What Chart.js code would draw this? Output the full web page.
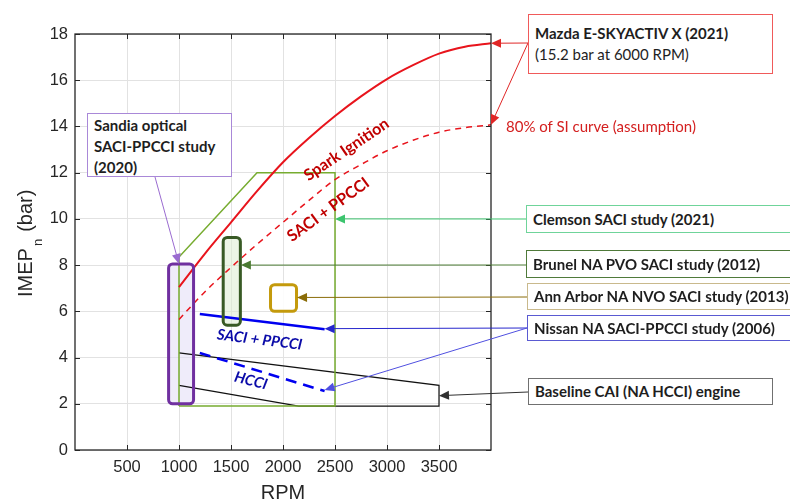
<!DOCTYPE html>
<html>
<head>
<meta charset="utf-8">
<script src="https://cdn.jsdelivr.net/npm/chart.js@4.4.1/dist/chart.umd.min.js"></script>
<style>
    body { margin: 0; background: #fff; }
    #wrap { position: relative; width: 790px; height: 500px; overflow: hidden; background: #fff; }
    #wrap canvas { position: absolute; left: 0; top: 0; }
    .note {
        position: absolute;
        box-sizing: border-box;
        background: #fff;
        border: 1px solid #888;
        font: bold 15px Lato, "Open Sans", sans-serif;
        color: #1e1e1e;
        white-space: nowrap;
        padding-left: 6px;
    }
    .note .plain { font-weight: normal; }
    .red-note {
        position: absolute;
        font: 15px Lato, "Open Sans", sans-serif;
        color: #d42020;
        white-space: nowrap;
    }
</style>
</head>
<body>
<div id="wrap">
    <canvas id="imepChart" width="790" height="500"></canvas>

    <div class="note" style="left:528px; top:14px; width:245px; height:60px; border-color:#f05a5a; line-height:21px; padding-top:8px;">
        Mazda E-SKYACTIV X (2021)<br><span class="plain">(15.2 bar at 6000 RPM)</span>
    </div>
    <div class="red-note" style="left:506px; top:117px;">80% of SI curve (assumption)</div>
    <div class="note" style="left:526px; top:205px; width:300px; height:28px; border-color:#6fd49a; line-height:26px;">Clemson SACI study (2021)</div>
    <div class="note" style="left:526px; top:250px; width:300px; height:28px; border-color:#4f7a3a; line-height:26px;">Brunel NA PVO SACI study (2012)</div>
    <div class="note" style="left:527px; top:283px; width:300px; height:27px; border-color:#c9b98c; line-height:25px;">Ann Arbor NA NVO SACI study (2013)</div>
    <div class="note" style="left:527px; top:315px; width:300px; height:26px; border-color:#5a5ad2; line-height:24px;">Nissan NA SACI-PPCCI study (2006)</div>
    <div class="note" style="left:528px; top:378px; width:245px; height:27px; border-color:#707070; line-height:25px;">Baseline CAI (NA HCCI) engine</div>
    <div class="note" style="left:87px; top:113px; width:145px; height:64px; border-color:#a988d8; line-height:21px; padding-top:1px;">
        Sandia optical<br>SACI-PPCCI study<br>(2020)
    </div>
</div>

<script>
// Spark ignition full-load curve and the assumed 80% SACI + PPCCI limit
const rpmSI = [1000, 1250, 1500, 1750, 2000, 2250, 2500, 2750, 3000, 3250, 3500, 3750, 4000];
const imepSI = [7.05, 8.5, 9.85, 11.2, 12.45, 13.5, 14.45, 15.3, 16.05, 16.65, 17.15, 17.45, 17.6];
const imepSI80 = [5.65, 6.85, 7.9, 8.9, 9.85, 10.8, 11.7, 12.35, 12.95, 13.4, 13.75, 13.95, 14.07];

// Clemson SACI operating envelope
const clemsonRpm = [1000, 1000, 1750, 2500, 2500, 1000];
const clemsonImep = [1.9, 8.35, 12, 12, 1.9, 1.9];

// Baseline CAI (NA HCCI) engine envelope
const baselineRpm = [1000, 3500, 3500, 2150, 1000];
const baselineImep = [4.2, 2.8, 1.9, 1.9, 2.8];

// Nissan upper limits
const nissanRpm = [1200, 2400];
const nissanSaciImep = [5.88, 5.22];
const nissanHcciImep = [4.2, 2.55];

// Study regions drawn as boxes [min, max]
const sandiaRpm = [900, 1140];
const sandiaImep = [2, 8.05];
const brunelRpm = [1425, 1590];
const brunelImep = [5.4, 9.2];
const annArborRpm = [1880, 2130];
const annArborImep = [6.0, 7.15];

const xTicks = [500, 1000, 1500, 2000, 2500, 3000, 3500];
const yTicks = [0, 2, 4, 6, 8, 10, 12, 14, 16, 18];

function pts(xs, ys) {
    return xs.map((x, i) => ({ x: x, y: ys[i] }));
}

const regions = [
    { rpm: sandiaRpm, imep: sandiaImep, stroke: '#7030a0', fill: 'rgba(225, 220, 245, 0.55)' },
    { rpm: brunelRpm, imep: brunelImep, stroke: '#385a25', fill: 'rgba(220, 236, 210, 0.55)' },
    { rpm: annArborRpm, imep: annArborImep, stroke: '#c49a0c', fill: 'rgba(255, 255, 255, 0.9)' }
];

// rotated labels inside the plot, anchored in data units
const plotLabels = [
    { text: 'Spark Ignition', rpm: 2610, imep: 13.0, angle: -34, color: '#c00000', font: 'bold 16px Lato' },
    { text: 'SACI + PPCCI', rpm: 2435, imep: 10.4, angle: -36, color: '#c00000', font: 'bold 16px Lato' },
    { text: 'SACI + PPCCI', rpm: 1775, imep: 4.77, angle: 7, color: '#0a0aa8', font: 'italic bold 15px Lato' },
    { text: 'HCCI', rpm: 1690, imep: 3.0, angle: 14, color: '#0a0aa8', font: 'italic bold 15px Lato' }
];

// leader arrows: start in page pixels, tip in data units
const arrows = [
    { from: [528, 43], to: [4000, 17.6], color: '#e02626' },
    { from: [528, 43], to: [4000, 14.07], color: '#e02626' },
    { from: [526, 219], to: [2500, 10], color: '#3cc46e' },
    { from: [526, 265], to: [1595, 8], color: '#4a7a32' },
    { from: [527, 297], to: [2135, 6.6], color: '#8a6c08' },
    { from: [527, 328], to: [2400, 5.25], color: '#2626cc' },
    { from: [527, 328], to: [2400, 2.6], color: '#5050e0' },
    { from: [528, 392], to: [3500, 2.35], color: '#303030' },
    { from: [155, 177], to: [1000, 8.05], color: '#9a6bd0' }
];

function drawArrow(ctx, x1, y1, x2, y2, color) {
    const ang = Math.atan2(y2 - y1, x2 - x1);
    const len = 10, half = 4.5;
    ctx.strokeStyle = color;
    ctx.fillStyle = color;
    ctx.lineWidth = 1;
    ctx.beginPath();
    ctx.moveTo(x1, y1);
    ctx.lineTo(x2 - Math.cos(ang) * len * 0.8, y2 - Math.sin(ang) * len * 0.8);
    ctx.stroke();
    ctx.beginPath();
    ctx.moveTo(x2, y2);
    ctx.lineTo(x2 - Math.cos(ang) * len - Math.sin(ang) * half, y2 - Math.sin(ang) * len + Math.cos(ang) * half);
    ctx.lineTo(x2 - Math.cos(ang) * len + Math.sin(ang) * half, y2 - Math.sin(ang) * len - Math.cos(ang) * half);
    ctx.closePath();
    ctx.fill();
}

function roundRect(ctx, x, y, w, h, r) {
    ctx.beginPath();
    ctx.moveTo(x + r, y);
    ctx.arcTo(x + w, y, x + w, y + h, r);
    ctx.arcTo(x + w, y + h, x, y + h, r);
    ctx.arcTo(x, y + h, x, y, r);
    ctx.arcTo(x, y, x + w, y, r);
    ctx.closePath();
}

function regionBox(chart, reg) {
    const xs = chart.scales.x, ys = chart.scales.y;
    const x0 = xs.getPixelForValue(reg.rpm[0]), x1 = xs.getPixelForValue(reg.rpm[1]);
    const y0 = ys.getPixelForValue(reg.imep[1]), y1 = ys.getPixelForValue(reg.imep[0]);
    return [x0, y0, x1 - x0, y1 - y0];
}

const extras = {
    id: 'extras',
    beforeDatasetsDraw(chart) {
        const ctx = chart.ctx;
        ctx.save();
        regions.forEach(reg => {
            const b = regionBox(chart, reg);
            roundRect(ctx, b[0], b[1], b[2], b[3], 4);
            ctx.fillStyle = reg.fill;
            ctx.fill();
        });
        ctx.restore();
    },
    afterDatasetsDraw(chart) {
        const ctx = chart.ctx;
        const xs = chart.scales.x, ys = chart.scales.y;
        const a = chart.chartArea;
        ctx.save();

        // study boxes
        regions.forEach(reg => {
            const b = regionBox(chart, reg);
            roundRect(ctx, b[0], b[1], b[2], b[3], 4);
            ctx.strokeStyle = reg.stroke;
            ctx.lineWidth = 3;
            ctx.stroke();
        });

        // axes box with inward ticks on all sides
        ctx.strokeStyle = '#262626';
        ctx.lineWidth = 1.3;
        ctx.strokeRect(a.left, a.top, a.right - a.left, a.bottom - a.top);
        ctx.lineWidth = 1;
        ctx.beginPath();
        xTicks.forEach(v => {
            const px = Math.round(xs.getPixelForValue(v)) + 0.5;
            ctx.moveTo(px, a.bottom); ctx.lineTo(px, a.bottom - 5);
            ctx.moveTo(px, a.top); ctx.lineTo(px, a.top + 5);
        });
        yTicks.forEach(v => {
            const py = Math.round(ys.getPixelForValue(v)) + 0.5;
            ctx.moveTo(a.left, py); ctx.lineTo(a.left + 5, py);
            ctx.moveTo(a.right, py); ctx.lineTo(a.right - 5, py);
        });
        ctx.stroke();

        // labels on the curves
        plotLabels.forEach(l => {
            ctx.save();
            ctx.translate(xs.getPixelForValue(l.rpm), ys.getPixelForValue(l.imep));
            ctx.rotate(l.angle * Math.PI / 180);
            ctx.font = l.font;
            ctx.fillStyle = l.color;
            ctx.textAlign = 'center';
            ctx.textBaseline = 'middle';
            ctx.fillText(l.text, 0, 0);
            ctx.restore();
        });

        // leader arrows
        arrows.forEach(ar => {
            drawArrow(ctx, ar.from[0], ar.from[1], xs.getPixelForValue(ar.to[0]), ys.getPixelForValue(ar.to[1]), ar.color);
        });

        // axis titles
        ctx.fillStyle = '#262626';
        ctx.font = '20px "Liberation Sans", Arial, sans-serif';
        ctx.textAlign = 'center';
        ctx.textBaseline = 'top';
        ctx.fillText('RPM', (a.left + a.right) / 2, 483);

        ctx.translate(32, 297);
        ctx.rotate(-Math.PI / 2);
        ctx.textAlign = 'left';
        ctx.textBaseline = 'alphabetic';
        const big = '20px "Liberation Sans", Arial, sans-serif';
        const small = '13px "Liberation Sans", Arial, sans-serif';
        ctx.font = big;
        const w1 = ctx.measureText('IMEP').width;
        ctx.fillText('IMEP', 0, 0);
        ctx.font = small;
        const w2 = ctx.measureText('n').width;
        ctx.fillText('n', w1 + 2, 10);
        ctx.font = big;
        ctx.fillText('(bar)', w1 + 2 + w2 + 7, 0);

        ctx.restore();
    }
};

const tickFont = { family: '"Liberation Sans", Arial, sans-serif', size: 16.5 };

new Chart(document.getElementById('imepChart').getContext('2d'), {
    type: 'scatter',
    data: {
        datasets: [
            { data: pts(nissanRpm, nissanSaciImep), borderColor: '#0000f0', borderWidth: 2.5 },
            { data: pts(nissanRpm, nissanHcciImep), borderColor: '#0000f0', borderWidth: 2.5, borderDash: [11, 7] },
            { data: pts(rpmSI, imepSI), borderColor: '#e8141c', borderWidth: 2, cubicInterpolationMode: 'monotone' },
            { data: pts(rpmSI, imepSI80), borderColor: '#e8141c', borderWidth: 1.5, borderDash: [6, 5], cubicInterpolationMode: 'monotone' },
            { data: pts(clemsonRpm, clemsonImep), borderColor: '#77ac30', borderWidth: 1.5 },
            { data: pts(baselineRpm, baselineImep), borderColor: '#111111', borderWidth: 1.2 }
        ].map(ds => Object.assign({ showLine: true, pointRadius: 0, fill: false, tension: 0 }, ds))
    },
    options: {
        responsive: false,
        animation: false,
        layout: { padding: { left: 0, right: 299, top: 34, bottom: 0 } },
        plugins: {
            legend: { display: false },
            tooltip: { enabled: false }
        },
        scales: {
            x: {
                type: 'linear',
                min: 0,
                max: 4000,
                afterFit: s => { s.height = 50; },
                afterBuildTicks: s => { s.ticks = xTicks.map(v => ({ value: v })); },
                ticks: { font: tickFont, color: '#262626', padding: 8, maxRotation: 0, callback: v => String(v) },
                grid: { color: '#e2e2e2', drawTicks: false },
                border: { display: false }
            },
            y: {
                type: 'linear',
                min: 0,
                max: 18,
                afterFit: s => { s.width = 75; },
                afterBuildTicks: s => { s.ticks = yTicks.map(v => ({ value: v })); },
                ticks: { font: tickFont, color: '#262626', padding: 7, callback: v => String(v) },
                grid: { color: '#e2e2e2', drawTicks: false },
                border: { display: false }
            }
        }
    },
    plugins: [extras]
});
</script>
</body>
</html>
